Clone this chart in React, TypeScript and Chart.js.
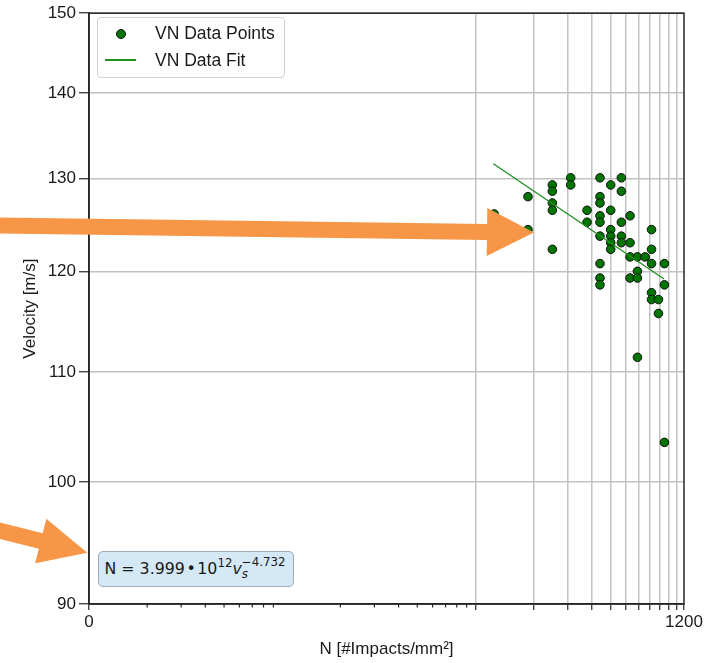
import React, { useEffect, useRef } from 'react';
import { Chart, registerables } from 'chart.js';

Chart.register(...registerables);

const FONT = "'Liberation Sans', Arial, Helvetica, sans-serif";
const MATH_FONT = "'DejaVu Sans', 'Liberation Sans', sans-serif";

// Data points: impact density N [#/mm²] and velocity v [m/s]
const pointN = [
  125,
  187, 187,
  250, 250, 250, 250, 250,
  311, 311,
  378, 378,
  441, 441, 441, 441, 441, 441, 441, 441, 441,
  501, 501, 501, 501, 501, 501,
  569, 569, 569, 569, 569,
  631, 631, 631, 631,
  689, 689, 689, 689,
  755,
  815, 815, 815, 815, 815,
  885, 885,
  950, 950, 950,
];
const pointV = [
  126.1,
  128.0, 124.4,
  129.3, 128.6, 127.3, 126.5, 122.3,
  130.1, 129.3,
  126.5, 125.2,
  130.1, 128.0, 127.3, 125.9, 125.2, 123.7, 120.8, 119.3, 118.6,
  129.3, 126.5, 124.4, 123.7, 123.0, 122.3,
  130.1, 128.6, 125.2, 123.7, 123.0,
  125.9, 123.0, 121.5, 119.3,
  121.5, 120.0, 119.3, 111.4,
  121.5,
  124.4, 122.3, 120.8, 117.8, 117.1,
  117.1, 115.7,
  120.8, 118.6, 103.5,
];

// Fit line end points
const fitN = [123.8, 946];
const fitV = [131.7, 119.2];

// Axis ticks
const xMajorTicks = [1, 100, 200, 300, 400, 500, 600, 700, 800, 900, 1000, 1100, 1200];
const xMinorTicks = [2, 3, 4, 5, 6, 7, 8, 9, 20, 30, 40, 50, 60, 70, 80, 90];
const xTickLabels: Record<number, string> = { 1: '0', 1200: '1200' };
const yTicks = [90, 100, 110, 120, 130, 140, 150];

const X_MIN = 1;
const X_MAX = 1200;
const Y_MIN = 90;
const Y_MAX = 150;

const POINT_FILL = '#007400';
const FIT_COLOR = '#1f8f1f';
const ARROW_COLOR = '#f79646';
const FRAME_COLOR = '#262626';
const GRID_COLOR = '#c2c2c2';

function drawArrow(
  ctx: CanvasRenderingContext2D,
  tx: number, ty: number, hx: number, hy: number,
  shaftHalf: number, headHalf: number, headLen: number
) {
  const dx = hx - tx;
  const dy = hy - ty;
  const len = Math.hypot(dx, dy);
  const ux = dx / len;
  const uy = dy / len;
  const px = -uy;
  const py = ux;
  const bx = hx - ux * headLen;
  const by = hy - uy * headLen;
  ctx.beginPath();
  ctx.moveTo(tx + px * shaftHalf, ty + py * shaftHalf);
  ctx.lineTo(bx + px * shaftHalf, by + py * shaftHalf);
  ctx.lineTo(bx + px * headHalf, by + py * headHalf);
  ctx.lineTo(hx, hy);
  ctx.lineTo(bx - px * headHalf, by - py * headHalf);
  ctx.lineTo(bx - px * shaftHalf, by - py * shaftHalf);
  ctx.lineTo(tx - px * shaftHalf, ty - py * shaftHalf);
  ctx.closePath();
  ctx.fill();
}

export default function App() {
  const ref = useRef<HTMLCanvasElement>(null);

  useEffect(() => {
    if (!ref.current) return;

    const framePlugin = {
      id: 'framePlugin',
      afterDraw(chart: any) {
        const { ctx, chartArea } = chart;
        const xs = chart.scales.x;
        ctx.save();
        // minor ticks on x axis
        ctx.strokeStyle = FRAME_COLOR;
        ctx.lineWidth = 1.2;
        for (const v of xMinorTicks) {
          const px = xs.getPixelForValue(v);
          ctx.beginPath();
          ctx.moveTo(px, chartArea.bottom);
          ctx.lineTo(px, chartArea.bottom + 3.5);
          ctx.stroke();
        }
        // frame
        ctx.lineWidth = 1.5;
        ctx.strokeRect(chartArea.left, chartArea.top, chartArea.right - chartArea.left, chartArea.bottom - chartArea.top);
        // annotation arrows
        ctx.fillStyle = ARROW_COLOR;
        drawArrow(ctx, -5, 225.4, 534, 232.5, 8, 24, 47);
        drawArrow(ctx, -29, 523.6, 87.3, 552.7, 8, 23, 48);
        ctx.restore();
      },
    };

    const chart = new Chart(ref.current, {
      type: 'scatter',
      data: {
        datasets: [
          {
            label: 'VN Data Points',
            data: pointN.map((n, i) => ({ x: n, y: pointV[i] })),
            backgroundColor: POINT_FILL,
            borderColor: '#111111',
            borderWidth: 1,
            pointRadius: 4.3,
            showLine: false,
            order: 1,
          },
          {
            label: 'VN Data Fit',
            data: fitN.map((n, i) => ({ x: n, y: fitV[i] })),
            borderColor: FIT_COLOR,
            backgroundColor: FIT_COLOR,
            borderWidth: 1.3,
            pointRadius: 0,
            showLine: true,
            order: 0,
          },
        ],
      },
      options: {
        animation: false,
        responsive: false,
        devicePixelRatio: 1,
        layout: { padding: { top: 12, right: 27, left: 0, bottom: 0 } },
        plugins: {
          legend: { display: false },
          tooltip: { enabled: false },
        },
        scales: {
          x: {
            type: 'logarithmic',
            min: X_MIN,
            max: X_MAX,
            afterBuildTicks: (scale: any) => {
              scale.ticks = xMajorTicks.map((v) => ({ value: v }));
            },
            afterFit: (scale: any) => {
              scale.height = 59;
            },
            ticks: {
              autoSkip: false,
              maxRotation: 0,
              minRotation: 0,
              padding: 2,
              color: '#1a1a1a',
              font: { family: FONT, size: 17 },
              callback: (value: any) => xTickLabels[Number(value)] ?? '',
            },
            grid: {
              color: (c: any) =>
                c.tick && c.tick.value > X_MIN && c.tick.value < X_MAX ? GRID_COLOR : 'rgba(0,0,0,0)',
              lineWidth: 1.5,
              tickColor: FRAME_COLOR,
              tickLength: 6,
              tickWidth: 1.2,
            },
            border: { display: true, color: FRAME_COLOR, width: 1.5 },
            title: {
              display: true,
              text: 'N [#Impacts/mm²]',
              color: '#1a1a1a',
              font: { family: FONT, size: 17 },
              padding: { top: 0, bottom: 3 },
            },
          },
          y: {
            type: 'logarithmic',
            min: Y_MIN,
            max: Y_MAX,
            afterBuildTicks: (scale: any) => {
              scale.ticks = yTicks.map((v) => ({ value: v }));
            },
            afterFit: (scale: any) => {
              scale.width = 89;
            },
            ticks: {
              autoSkip: false,
              padding: 3,
              color: '#1a1a1a',
              font: { family: FONT, size: 17 },
              callback: (value: any) => String(value),
            },
            grid: {
              color: GRID_COLOR,
              lineWidth: 1.5,
              tickColor: FRAME_COLOR,
              tickLength: 10,
              tickWidth: 1.2,
            },
            border: { display: true, color: FRAME_COLOR, width: 1.5 },
            title: {
              display: true,
              text: 'Velocity [m/s]',
              color: '#1a1a1a',
              font: { family: FONT, size: 17 },
              padding: { top: 20, bottom: 0 },
            },
          },
        },
      } as any,
      plugins: [framePlugin],
    });

    return () => chart.destroy();
  }, []);

  return (
    <div
      style={{
        position: 'fixed',
        left: 0,
        top: 0,
        width: 711,
        height: 663,
        background: '#ffffff',
        fontFamily: FONT,
        color: '#1a1a1a',
      }}
    >
      <canvas
        ref={ref}
        width={711}
        height={663}
        style={{ position: 'absolute', left: 0, top: 0, width: 711, height: 663 }}
      />
      {/* Legend */}
      <div
        style={{
          position: 'absolute',
          left: 97,
          top: 17,
          width: 188,
          height: 61,
          boxSizing: 'border-box',
          background: 'rgba(255,255,255,0.85)',
          border: '1px solid #d2d2d2',
          borderRadius: 4,
          fontSize: 17.5,
          lineHeight: '20px',
        }}
      >
        <div
          style={{
            position: 'absolute',
            left: 18,
            top: 11,
            width: 8,
            height: 8,
            borderRadius: '50%',
            background: POINT_FILL,
            border: '1px solid #111',
          }}
        />
        <div style={{ position: 'absolute', left: 57, top: 5, whiteSpace: 'nowrap' }}>VN Data Points</div>
        <div
          style={{
            position: 'absolute',
            left: 7,
            top: 41,
            width: 31,
            height: 1.5,
            background: FIT_COLOR,
          }}
        />
        <div style={{ position: 'absolute', left: 57, top: 32, whiteSpace: 'nowrap' }}>VN Data Fit</div>
      </div>
      {/* Equation box */}
      <div
        style={{
          position: 'absolute',
          left: 98,
          top: 551,
          width: 196,
          height: 36,
          boxSizing: 'border-box',
          background: '#d4e8f5',
          border: '1.5px solid #9eabb4',
          borderRadius: 5,
          fontFamily: MATH_FONT,
          fontSize: 15.8,
          lineHeight: '20px',
        }}
      >
        <div style={{ position: 'absolute', left: 5.5, top: 7, whiteSpace: 'nowrap' }}>
          N = 3.999{'\u200A'}•{'\u200A'}10
          <span style={{ fontSize: 11.8, position: 'relative', top: -7 }}>12</span>
          <span style={{ fontStyle: 'italic' }}>v</span>
          <span style={{ position: 'relative', display: 'inline-block' }}>
            <span style={{ fontSize: 11.8, position: 'relative', top: -8 }}>−4.732</span>
            <span
              style={{
                fontSize: 11.8,
                fontStyle: 'italic',
                position: 'absolute',
                left: 0,
                top: 5,
              }}
            >
              s
            </span>
          </span>
        </div>
      </div>
    </div>
  );
}
